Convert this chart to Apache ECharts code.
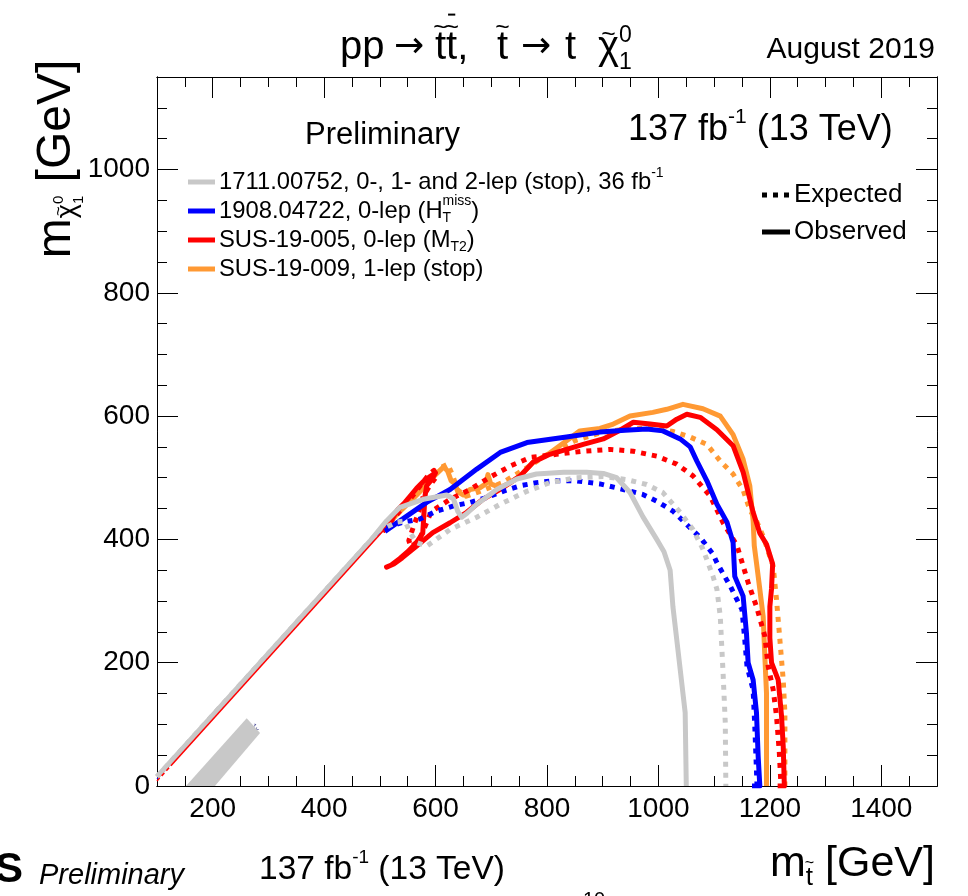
<!DOCTYPE html>
<html><head><meta charset="utf-8">
<script src="https://cdn.jsdelivr.net/npm/echarts@6/dist/echarts.min.js"></script>
<style>html,body{margin:0;padding:0;background:#fff}#c{width:968px;height:896px}</style>
</head><body><div id="c"></div><script>
// ---------------- data (GeV) ----------------
const X_MIN = 100, X_MAX = 1500, Y_MIN = 0, Y_MAX = 1150;
const xMajorTicks = [200, 400, 600, 800, 1000, 1200, 1400];
const yMajorTicks = [0, 200, 400, 600, 800, 1000];

const bandPoly = [[152, 0], [204, 0], [285, 86], [261, 110]];

const grayObs = [[100,15],[200,115],[300,215],[400,315],[482,397],[512,430],[536,452],[578,465],[620,472],[632,466],[640,445],[647,436],[656,442],[674,457],[710,481],[746,498],[781,506],[830,509],[871,509],[901,507],[925,500],[949,476],[972,437],[997,400],[1010,380],[1021,350],[1026,291],[1035,221],[1048,119],[1050,0]];
const grayExp = [[100,15],[300,215],[500,415],[530,428],[545,430],[555,410],[566,395],[584,389],[626,416],[674,436],[716,457],[764,478],[805,492],[853,500],[901,502],[943,497],[979,489],[1008,476],[1039,444],[1062,416],[1080,384],[1098,340],[1105,319],[1111,275],[1116,184],[1120,102],[1121,0]];

const blueObs = [[509,413],[536,430],[584,460],[626,481],[674,514],[716,541],[764,557],[835,566],[895,574],[940,577],[979,579],[1008,576],[1039,563],[1057,550],[1069,527],[1087,495],[1105,457],[1123,428],[1134,395],[1137,340],[1152,308],[1158,248],[1161,200],[1170,172],[1176,119],[1179,48],[1182,0],[1168,0]];
const blueExp = [[512,419],[542,428],[572,433],[602,446],[631,454],[662,460],[692,468],[721,478],[752,487],[781,492],[811,495],[853,495],[895,490],[937,481],[972,473],[997,462],[1026,446],[1051,424],[1075,403],[1098,376],[1105,362],[1129,324],[1150,286],[1155,237],[1159,194],[1170,156],[1173,96],[1177,0]];

const redObs = [[505,413],[520,430],[532,448],[545,460],[556,472],[566,483],[578,494],[590,502],[600,508],[593,497],[584,487],[581,470],[579,440],[577,410],[566,395],[550,380],[536,369],[520,358],[512,355],[525,360],[540,370],[566,389],[595,411],[626,427],[656,444],[685,465],[716,481],[752,503],[775,525],[805,538],[835,546],[865,554],[901,563],[925,574],[955,590],[985,587],[1015,584],[1033,595],[1051,603],[1075,598],[1105,578],[1134,552],[1152,509],[1170,444],[1182,410],[1194,392],[1205,360],[1203,320],[1200,291],[1200,240],[1203,200],[1215,172],[1221,113],[1224,64],[1226,0],[1214,0]];
const redExp = [[505,413],[525,435],[545,455],[560,472],[575,490],[588,505],[597,512],[600,500],[590,488],[578,470],[570,445],[560,420],[552,398],[556,388],[570,398],[583,425],[592,445],[626,465],[662,481],[698,501],[734,519],[770,533],[817,538],[865,543],[913,546],[955,543],[997,535],[1033,522],[1062,503],[1093,470],[1116,427],[1141,390],[1161,330],[1176,291],[1191,243],[1197,194],[1206,156],[1212,113],[1217,54],[1220,0]];

const orangeObs = [[505,413],[530,440],[555,462],[580,485],[600,505],[615,518],[622,510],[628,495],[635,490],[640,477],[650,472],[662,481],[680,484],[690,490],[694,505],[699,490],[716,484],[734,492],[752,503],[775,525],[805,540],[829,556],[859,576],[895,580],[919,587],[949,600],[990,606],[1015,611],[1044,619],[1080,612],[1111,600],[1134,570],[1152,530],[1164,487],[1170,430],[1172,390],[1176,362],[1182,319],[1188,275],[1191,210],[1194,150],[1194,0]];
const orangeExp = [[505,413],[540,450],[575,490],[605,515],[622,522],[630,505],[640,480],[655,470],[680,478],[720,492],[760,514],[800,537],[850,560],[900,574],[950,580],[1000,580],[1026,575],[1057,566],[1087,554],[1111,527],[1134,506],[1152,480],[1164,448],[1176,430],[1188,405],[1206,356],[1212,302],[1218,237],[1224,172],[1227,119],[1227,0]];

const redDiag = [[125,33],[508,416]];
const redDiagDash = [[100,8],[125,33]];
const blueDiag = [[100,11],[510,421]];

const legendLabels = ['1711.00752, 0-, 1- and 2-lep (stop), 36 fb', '1908.04722, 0-lep (H', 'SUS-19-005, 0-lep (M', 'SUS-19-009, 1-lep (stop)'];

// ---------------- styles ----------------
const GRAY = '#c8c8c8', BLUE = '#0000ff', RED = '#ff0000', ORANGE = '#ff9933';
const FONT = '"Liberation Sans", Arimo, Helvetica, Arial, sans-serif';
const ARROWFONT = '"DejaVu Sans", "Liberation Sans", sans-serif';

const mc = document.createElement('canvas').getContext('2d');
function fontStr(size, italic, bold, fam) { return (italic ? 'italic ' : '') + (bold ? 'bold ' : '') + size + 'px ' + (fam || FONT); }
function mw(t, size, italic, bold, fam) { mc.font = fontStr(size, italic, bold, fam); return mc.measureText(t).width; }

function flow(pieces, x0, y0, base) {
  const els = []; let x = x0;
  for (const p of pieces) {
    if (p.at != null) x = p.at;
    const size = p.s || base, dy = p.dy || 0;
    const w = mw(p.t, size, p.i, p.b, p.f);
    els.push({ type: 'text', x: x, y: y0 + dy, silent: true,
      style: { text: p.t, font: fontStr(size, p.i, p.b, p.f), fill: '#000', textAlign: 'left', textVerticalAlign: 'middle' } });
    if (p.tilde) {
      const ts = size * 0.62;
      els.push({ type: 'text', x: x + w / 2 + (p.tx || 0), y: y0 + dy - size * (p.th || 0.5), silent: true,
        style: { text: '~', font: fontStr(ts), fill: '#000', textAlign: 'center', textVerticalAlign: 'middle' } });
    }
    if (p.bar) {
      els.push({ type: 'rect', silent: true, shape: { x: x + w / 2 - size * 0.09, y: y0 + dy - size * 0.86, width: size * 0.18, height: Math.max(1.5, size * 0.05) }, style: { fill: '#000' } });
    }
    if (!p.noAdv) x += w;
  }
  return { els, width: x - x0 };
}
function flowWidth(pieces, base) { return flow(pieces, 0, 0, base).width; }

const graphics = [];
function addFlow(pieces, x, y, base, align) {
  let x0 = x;
  if (align === 'right') x0 = x - flowWidth(pieces, base);
  if (align === 'center') x0 = x - flowWidth(pieces, base) / 2;
  flow(pieces, x0, y, base).els.forEach(e => graphics.push(e));
}

// Title
addFlow([
  { t: 'pp', at: 340 }, { t: '\u2192', f: ARROWFONT, s: 36, at: 394 },
  { t: 't', tilde: true, th: 0.5, at: 435 }, { t: 't', tilde: true, bar: true, th: 0.5 }, { t: ',' },
  { t: 't', tilde: true, th: 0.5, at: 497 }, { t: '\u2192', f: ARROWFONT, s: 36, at: 521 }, { t: 't', at: 565 },
  { t: '\u03c7', tilde: true, th: 0.33, at: 598 }, { t: '0', s: 23, dy: -12, noAdv: true }, { t: '1', s: 23, dy: 15 }
], 340, 48, 40);
addFlow([{ t: 'August 2019' }], 935, 50, 30, 'right');

// Inside plot texts
addFlow([{ t: 'Preliminary' }], 305, 135, 31);
addFlow([{ t: '137 fb' }, { t: '-1', s: 21, dy: -13 }, { t: ' (13 TeV)' }], 628, 130, 36);

// Legend
const legendColors = [GRAY, BLUE, RED, ORANGE];
const legendY = [182, 211, 240, 269];
const legendPieces = [
  [{ t: legendLabels[0] }, { t: '-1', s: 14, dy: -9 }],
  [{ t: legendLabels[1] }, { t: 'T', s: 14, dy: 7, noAdv: true }, { t: 'miss', s: 14, dy: -10 }, { t: ')' }],
  [{ t: legendLabels[2] }, { t: 'T2', s: 14, dy: 7 }, { t: ')' }],
  [{ t: legendLabels[3] }]
];
legendY.forEach((y, i) => {
  graphics.push({ type: 'line', silent: true, shape: { x1: 188, y1: y, x2: 215, y2: y }, style: { stroke: legendColors[i], lineWidth: 5 } });
  addFlow(legendPieces[i], 219, y, 23.8);
});
graphics.push({ type: 'line', silent: true, shape: { x1: 762, y1: 195, x2: 790, y2: 195 }, style: { stroke: '#000', lineWidth: 5, lineDash: [5, 6] } });
graphics.push({ type: 'line', silent: true, shape: { x1: 762, y1: 232, x2: 790, y2: 232 }, style: { stroke: '#000', lineWidth: 5 } });
addFlow([{ t: 'Expected' }], 794, 195, 26);
addFlow([{ t: 'Observed' }], 794, 232, 26);

// tiny label on the band
graphics.push({ type: 'text', x: 255, y: 728, rotation: -Math.PI / 4, silent: true,
  style: { text: '1x', font: fontStr(8), fill: '#55559a', textAlign: 'center', textVerticalAlign: 'middle' } });

// Axis titles
addFlow([{ t: 'm' }, { t: 't', s: 26, dy: 14, tilde: true, th: 0.55 }, { t: ' [GeV]' }], 770, 864, 43);
(function () {
  const pcs = [{ t: 'm' }, { t: '\u03c7', s: 27, dy: 11, tilde: true, th: 0.33 }, { t: '0', s: 15, dy: 2, noAdv: true }, { t: '1', s: 15, dy: 22 }, { t: ' [GeV]' }];
  const W = flowWidth(pcs, 48);
  const f = flow(pcs, -W / 2, 0, 48);
  graphics.push({ type: 'group', x: 57, y: 159, rotation: Math.PI / 2, children: f.els });
})();

// Bottom (next panel, cropped)
addFlow([{ t: 'CMS', b: true }], 23, 870, 42, 'right');
addFlow([{ t: 'Preliminary', i: true }], 39, 876, 29);
addFlow([{ t: '137 fb' }, { t: '-1', s: 19, dy: -12 }, { t: ' (13 TeV)' }], 259, 870, 33.5);
addFlow([{ t: '10', s: 20 }], 583, 900, 20);

// ---------------- axes ----------------
function mkAxis(dim, gridIndex, position, major) {
  const isX = dim === 'x';
  const ax = {
    type: 'value', gridIndex, position,
    min: isX ? X_MIN : Y_MIN, max: isX ? X_MAX : Y_MAX,
    interval: major ? (isX ? 100 : 200) : 50,
    splitLine: { show: false },
    axisLine: { show: true, onZero: false, lineStyle: { color: '#000', width: 1 } },
    axisTick: { show: true, inside: true, length: major ? 21 : 10, lineStyle: { color: '#000', width: 1 } },
    axisLabel: { show: false }
  };
  if (major) {
    const vals = isX ? xMajorTicks : yMajorTicks;
    ax.axisTick.customValues = vals;
    const labelled = (isX && position === 'bottom') || (!isX && position === 'left');
    if (labelled) {
      ax.axisLabel = { show: true, customValues: vals, color: '#000', fontFamily: FONT, fontSize: 28, margin: isX ? 9 : 7,
        formatter: v => String(v) };
    }
  }
  return ax;
}

function lineS(data, color, width, dashed) {
  return { type: 'line', xAxisIndex: 0, yAxisIndex: 0, data, symbol: 'none', showSymbol: false, silent: true, clip: true,
    lineStyle: { color, width, type: dashed ? (Array.isArray(dashed) ? dashed : [5, 6]) : 'solid', cap: 'butt', join: 'round' } };
}

const gridRect = { left: 157, right: 31, top: 77, bottom: 110 };
const option = {
  animation: false,
  backgroundColor: '#fff',
  grid: [Object.assign({}, gridRect), Object.assign({}, gridRect)],
  xAxis: [mkAxis('x', 0, 'bottom', false), mkAxis('x', 0, 'top', false), mkAxis('x', 1, 'bottom', true), mkAxis('x', 1, 'top', true)],
  yAxis: [mkAxis('y', 0, 'left', false), mkAxis('y', 0, 'right', false), mkAxis('y', 1, 'left', true), mkAxis('y', 1, 'right', true)],
  series: [
    { type: 'custom', xAxisIndex: 0, yAxisIndex: 0, data: [bandPoly[0]], silent: true, clip: true, z: 1,
      renderItem: (params, api) => ({ type: 'polygon', shape: { points: bandPoly.map(p => api.coord(p)) }, style: { fill: GRAY } }) },
    lineS(blueDiag, BLUE, 1.2, [4, 4]),
    lineS(orangeExp, ORANGE, 5, true),
    lineS(orangeObs, ORANGE, 5, false),
    lineS(redExp, RED, 5, true),
    lineS(redObs, RED, 5, false),
    lineS(blueExp, BLUE, 5, true),
    lineS(blueObs, BLUE, 5, false),
    lineS(grayExp, GRAY, 5, true),
    lineS(grayObs, GRAY, 5, false),
    lineS(redDiag, RED, 1.5, false),
    lineS(redDiagDash, RED, 1.5, [4, 3])
  ],
  graphic: { elements: graphics }
};

const chart = echarts.init(document.getElementById('c'), null, { renderer: 'canvas' });
chart.setOption(option);
</script></body></html>
